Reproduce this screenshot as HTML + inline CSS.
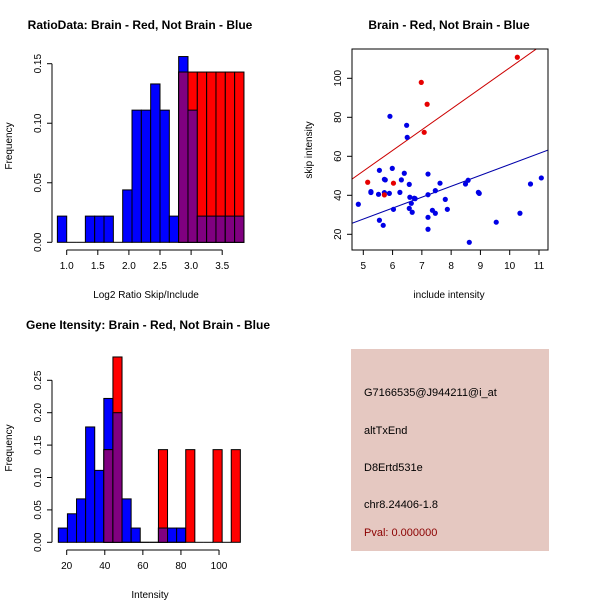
<!DOCTYPE html>
<html><head><meta charset="utf-8"><style>
html,body{margin:0;padding:0;background:#fff}
svg{display:block;font-family:"Liberation Sans",sans-serif}
</style></head><body>
<svg id="s" width="600" height="600" xmlns="http://www.w3.org/2000/svg">
<rect width="600" height="600" fill="#fff"/>
<text x="140" y="29" font-size="12" font-weight="bold" text-anchor="middle">RatioData: Brain - Red, Not Brain - Blue</text>
<text x="449" y="29" font-size="12" font-weight="bold" text-anchor="middle">Brain - Red, Not Brain - Blue</text>
<text x="148" y="329" font-size="12" font-weight="bold" text-anchor="middle">Gene Itensity: Brain - Red, Not Brain - Blue</text>
<text x="146" y="298" font-size="10" text-anchor="middle">Log2 Ratio Skip/Include</text>
<text x="449" y="298" font-size="10" text-anchor="middle">include intensity</text>
<text x="150" y="598" font-size="10" text-anchor="middle">Intensity</text>
<text transform="translate(12,146) rotate(-90)" font-size="10" text-anchor="middle">Frequency</text>
<text transform="translate(312,150) rotate(-90)" font-size="10" text-anchor="middle">skip intensity</text>
<text transform="translate(12,448) rotate(-90)" font-size="10" text-anchor="middle">Frequency</text>
<rect x="351" y="349" width="198" height="202" fill="#e5c8c1"/>
<text x="364" y="396" font-size="11">G7166535@J944211@i_at</text>
<text x="364" y="434" font-size="11">altTxEnd</text>
<text x="364" y="471" font-size="11">D8Ertd531e</text>
<text x="364" y="508" font-size="11">chr8.24406-1.8</text>
<text x="364" y="536" font-size="11" fill="#8b0000">Pval: 0.000000</text>
</svg>
<script>
const ratioBreakStart = 0.85, ratioBinWidth = 0.15;
const ratioBlue = [0.022,0,0,0.022,0.022,0.022,0,0.044,0.111,0.111,0.133,0.111,0.022,0.156,0.111,0.022,0.022,0.022,0.022,0.022];
const ratioRed  = [null,null,null,null,null,null,null,null,null,null,null,null,null,0.143,0.143,0.143,0.143,0.143,0.143,0.143];
const ratioXTicks = [1.0,1.5,2.0,2.5,3.0,3.5];
const ratioYTicks = [0,0.05,0.10,0.15];

const intBreakStart = 15.6, intBinWidth = 4.78;
const intBlue = [0.022,0.044,0.067,0.178,0.111,0.222,0.2,0.067,0.022,0,0,0.022,0.022,0.022];
const intRed  = [null,null,null,null,null,0.143,0.286,0,0,0,0,0.143,0,0,0.143,0,0,0.143,0,0.143];
const intXTicks = [20,40,60,80,100];
const intYTicks = [0,0.05,0.10,0.15,0.20,0.25];

const blueX = [4.83,5.26,5.26,5.52,5.55,5.55,5.68,5.72,5.75,5.72,5.89,5.91,5.99,6.03,6.25,6.30,6.40,6.48,6.50,6.57,6.57,6.59,6.64,6.67,6.74,6.77,7.21,7.21,7.21,7.21,7.36,7.46,7.46,7.62,7.80,7.87,8.49,8.58,8.62,8.93,8.96,9.54,10.35,10.71,11.08];
const blueY = [35.4,41.9,41.4,40.5,27.2,52.8,24.6,48.2,47.9,41.4,41.0,80.5,53.8,32.8,41.5,47.9,51.3,75.9,69.7,45.6,33.3,39.0,35.9,31.3,38.5,38.3,50.9,40.3,28.7,22.6,32.3,30.8,42.4,46.2,37.9,32.8,45.8,47.7,15.9,41.5,41.0,26.2,30.8,45.8,48.9];
const redX = [5.15,5.72,6.03,6.98,7.08,7.18,10.26];
const redY = [46.7,40.2,46.2,97.9,72.3,86.7,110.8];
const redFit = [-0.6,10.6];   // intercept, slope
const blueFit = [-0.16,5.6];
const scXTicks = [5,6,7,8,9,10,11];
const scYTicks = [20,40,60,80,100];

const svg = document.getElementById('s');
const NS = 'http://www.w3.org/2000/svg';
function mk(tag, attrs, parent){
  const e = document.createElementNS(NS, tag);
  for (const k in attrs) e.setAttribute(k, attrs[k]);
  (parent||svg).appendChild(e);
  return e;
}

function histogram(g, start, w, blue, red, xs, ys, xTicks, yTicks, axisX, axisY, fmtX, fmtY, prefix){
  const n = Math.max(blue.length, red.length);
  for (let i=0;i<n;i++){
    const b = blue[i], r = red[i];
    const x0 = xs(start+i*w), x1 = xs(start+(i+1)*w);
    const draw = (v, col, nm) => {
      if (v === 0) {
        const ln = mk('line',{x1:x0,x2:x1,y1:ys(0),y2:ys(0),stroke:'#000','stroke-width':1});
        
        
        return;
      }
      const el = mk('rect',{x:x0,y:ys(v),width:x1-x0,height:ys(0)-ys(v),fill:col,stroke:'#000','stroke-width':1});
      
      
    };
    if (b!=null) draw(b,'#0000ff',prefix+'-blue-bar-'+i);
    if (r!=null) draw(r,'#ff0000',prefix+'-red-bar-'+i);
    if (b!=null && r!=null && Math.min(b,r)>0) draw(Math.min(b,r),'#800080',prefix+'-overlap-bar-'+i);
  }
  const ax = mk('g',{stroke:'#000','stroke-width':1,fill:'none'});
  
  
  mk('line',{x1:xs(xTicks[0]),x2:xs(xTicks[xTicks.length-1]),y1:axisY,y2:axisY},ax);
  xTicks.forEach(t=>{
    mk('line',{x1:xs(t),x2:xs(t),y1:axisY,y2:axisY+5},ax);
    const tx = mk('text',{x:xs(t),y:axisY+19,'font-size':10,'text-anchor':'middle',fill:'#000',stroke:'none'});
    tx.textContent = fmtX(t);
    
    
  });
  const ay = mk('g',{stroke:'#000','stroke-width':1,fill:'none'});
  
  
  mk('line',{x1:axisX,x2:axisX,y1:ys(yTicks[0]),y2:ys(yTicks[yTicks.length-1])},ay);
  yTicks.forEach(t=>{
    mk('line',{x1:axisX-5,x2:axisX,y1:ys(t),y2:ys(t)},ay);
    const tx = mk('text',{transform:`translate(${axisX-11},${ys(t)}) rotate(-90)`,'font-size':10,'text-anchor':'middle',fill:'#000',stroke:'none'});
    tx.textContent = fmtY(t);
    
    
  });
}

const rxs = v => 66.7 + (v-1)*62.2;
const rys = v => 242.3 - v/0.15*178.6;
histogram(svg, ratioBreakStart, ratioBinWidth, ratioBlue, ratioRed, rxs, rys, ratioXTicks, ratioYTicks, 52, 250,
  t=>t.toFixed(1), t=>t.toFixed(2), 'ratio');

const ixs = v => 66.7 + (v-20)*1.904;
const iys = v => 542.3 - v*648;
histogram(svg, intBreakStart, intBinWidth, intBlue, intRed, ixs, iys, intXTicks, intYTicks, 52, 550,
  t=>String(t), t=>t.toFixed(2), 'intensity');

const L=352,R=548,T=49,B=250;
const sxs = v => 363.3 + (v-5)*29.28;
const sys = v => 234.3 - (v-20)*1.95;
const clip = mk('clipPath',{id:'sc'});
mk('rect',{x:L,y:T,width:R-L,height:B-T},clip);
[[redFit,'#cc0000','red-fit-line'],[blueFit,'#0000aa','blue-fit-line']].forEach(([f,c,nm])=>{
  const x0=(L-363.3)/29.28+5, x1=(R-363.3)/29.28+5;
  const ln = mk('line',{x1:sxs(x0),y1:sys(f[0]+f[1]*x0),x2:sxs(x1),y2:sys(f[0]+f[1]*x1),stroke:c,'stroke-width':1,'clip-path':'url(#sc)'});
  
  
});
blueX.forEach((x,i)=>{
  const c = mk('circle',{cx:sxs(x),cy:sys(blueY[i]),r:2.6,fill:'#0000e6'});
  
  
});
redX.forEach((x,i)=>{
  const c = mk('circle',{cx:sxs(x),cy:sys(redY[i]),r:2.6,fill:'#e60000'});
  
  
});
const box = mk('rect',{x:L,y:T,width:R-L,height:B-T,fill:'none',stroke:'#000'});


scXTicks.forEach(t=>{
  mk('line',{x1:sxs(t),x2:sxs(t),y1:B,y2:B+5,stroke:'#000'});
  const tx = mk('text',{x:sxs(t),y:B+19,'font-size':10,'text-anchor':'middle'});
  tx.textContent = t;
  
  
});
scYTicks.forEach(t=>{
  mk('line',{x1:L-5,x2:L,y1:sys(t),y2:sys(t),stroke:'#000'});
  const tx = mk('text',{transform:`translate(${L-11},${sys(t)}) rotate(-90)`,'font-size':10,'text-anchor':'middle'});
  tx.textContent = t;
  
  
});
</script>
</body></html>
